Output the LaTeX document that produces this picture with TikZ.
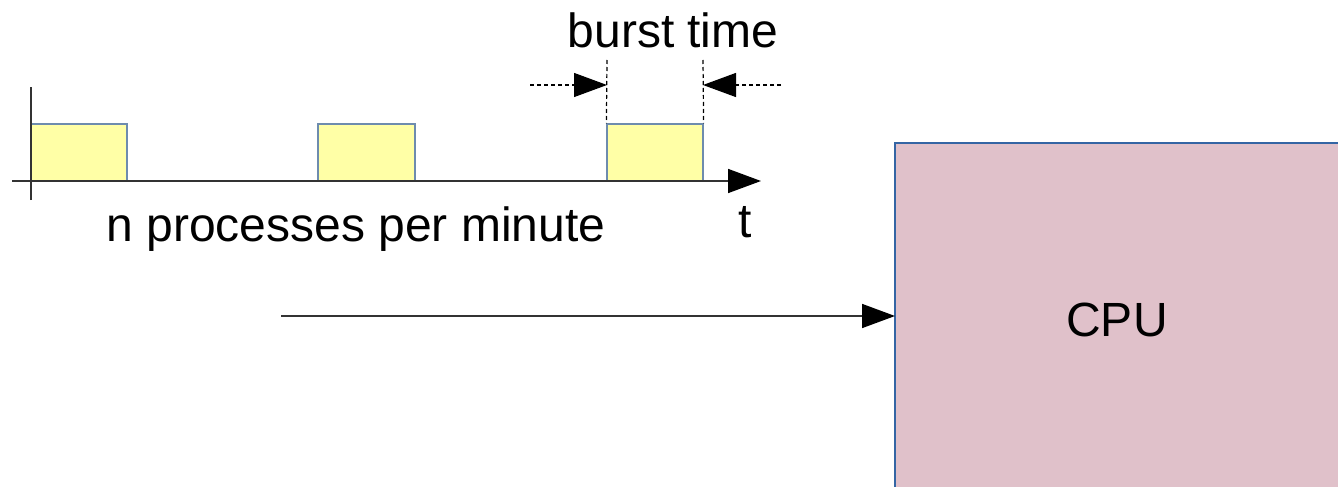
\documentclass[tikz,border=0pt]{standalone}
\usepackage{fontspec}
\setmainfont{Liberation Sans}
\usetikzlibrary{arrows.meta}
\definecolor{burstfill}{HTML}{FFFFA6}
\definecolor{burstedge}{HTML}{6E8CAE}
\definecolor{cpufill}{HTML}{E0C1CA}
\definecolor{cpuedge}{HTML}{3465A4}
\tikzset{
  big/.style={font=\fontsize{48}{58}\selectfont, inner sep=0pt},
  burst/.style={draw=burstedge, fill=burstfill, line width=1.2pt, inner sep=0pt, minimum height=57pt},
  axis/.style={draw=black!80, line width=1.6pt},
  headtip/.style={-{Triangle[length=33pt,width=24pt,color=black]}},
  guide/.style={draw=black, line width=1.2pt, dash pattern=on 4pt off 3pt},
}
\begin{document}
\begin{tikzpicture}[x=1pt,y=-1pt]
  \useasboundingbox (0,0) rectangle (1338,487);

  % processing unit
  \fill[cpufill] (895,143) rectangle (1338,487);
  \draw[cpuedge, line width=2pt] (895,487) -- (895,143) -- (1338,143);
  \node[big] (cpu) at (1117,320) {CPU};
  \coordinate (cpuin) at (895,316);

  % bursts on the time line
  \node[burst, minimum width=96pt] (b1) at (79,152.5) {};
  \node[burst, minimum width=97pt] (b2) at (366.5,152.5) {};
  \node[burst, minimum width=96pt] (b3) at (655,152.5) {};

  % axes
  \coordinate (yb) at (31,200);
  \coordinate (yt) at (31,87);
  \coordinate (xl) at (12,181);
  \coordinate (xr) at (761,181);
  \draw[axis] (yb) -- (yt);
  \draw[axis, headtip] (xl) -- (xr);

  % burst length marker
  \coordinate (gl) at (607,60);
  \coordinate (gr) at (703,60);
  \draw[guide] (gl) -- (b3.north west);
  \draw[guide] (gr) -- (b3.north east);
  \coordinate (al) at (530,85);
  \coordinate (ar) at (781,85);
  \coordinate (alt) at (607,85);
  \coordinate (art) at (703,85);
  \draw[guide, headtip] (al) -- (alt);
  \draw[guide, headtip] (ar) -- (art);

  % labels
  \node[big] (bt) at (673,30) {burst time};
  \node[big] (t) at (745,222) {t};
  \node[big] (rate) at (356,229) {n processes per minute};

  % arrival arrow
  \coordinate (src) at (281,316);
  \draw[line width=1.6pt, black!80, headtip] (src) -- (cpuin);
\end{tikzpicture}
\end{document}
